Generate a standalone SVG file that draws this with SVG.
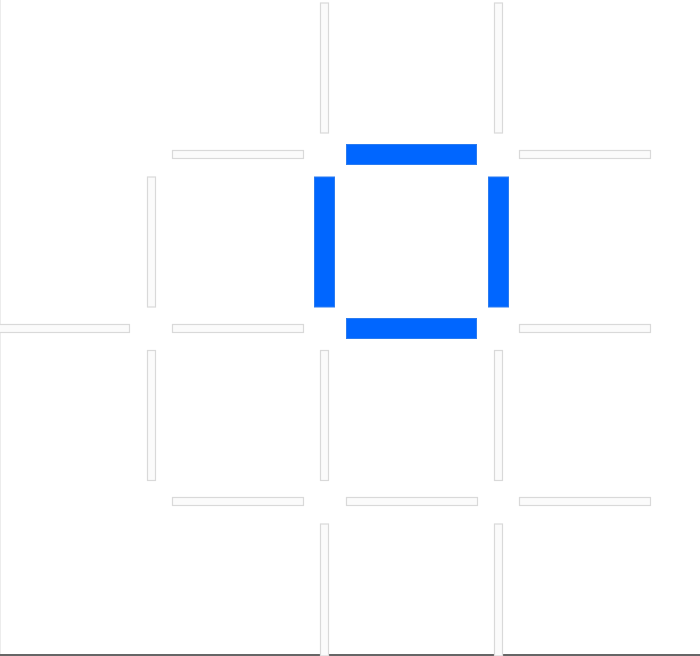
<svg xmlns="http://www.w3.org/2000/svg" width="700" height="656" viewBox="0 0 700 656">
<style>
.g{fill:#fbfbfb;stroke:#d9d9d9;stroke-width:1.2}
.b{fill:#0066ff;stroke:#2a7bf0;stroke-width:1}
</style>
<rect width="700" height="656" fill="#ffffff"/>
<line x1="0.5" y1="0" x2="0.5" y2="654" stroke="#ececec" stroke-width="1"/>
<line x1="0" y1="655" x2="700" y2="655" stroke="#666666" stroke-width="2"/>
<g id="sticks">
<g id="h-row0">
<rect class="g" x="172.5" y="150.5" width="131" height="8"/>
<rect class="g" x="519.5" y="150.5" width="131" height="8"/>
</g>
<g id="h-row1">
<rect class="g" x="-1" y="324.5" width="130.5" height="8"/>
<rect class="g" x="172.5" y="324.5" width="131" height="8"/>
<rect class="g" x="519.5" y="324.5" width="131" height="8"/>
</g>
<g id="h-row2">
<rect class="g" x="172.5" y="497.5" width="131" height="8"/>
<rect class="g" x="346.5" y="497.5" width="131" height="8"/>
<rect class="g" x="519.5" y="497.5" width="131" height="8"/>
</g>
<g id="v-col0">
<rect class="g" x="147.5" y="177" width="8" height="130"/>
<rect class="g" x="147.5" y="350.5" width="8" height="130"/>
</g>
<g id="v-col1">
<rect class="g" x="320.5" y="3" width="8" height="130"/>
<rect class="g" x="320.5" y="350.5" width="8" height="130"/>
<rect class="g" x="320.5" y="524" width="8" height="132"/>
</g>
<g id="v-col2">
<rect class="g" x="494.5" y="3" width="8" height="130"/>
<rect class="g" x="494.5" y="350.5" width="8" height="130"/>
<rect class="g" x="494.5" y="524" width="8" height="132"/>
</g>
<g id="blue-square">
<rect class="b" x="346.5" y="144.5" width="130" height="20"/>
<rect class="b" x="346.5" y="318.5" width="130" height="20"/>
<rect class="b" x="314.5" y="177" width="20" height="130"/>
<rect class="b" x="488.5" y="177" width="20" height="130"/>
</g>
</g>
</svg>
